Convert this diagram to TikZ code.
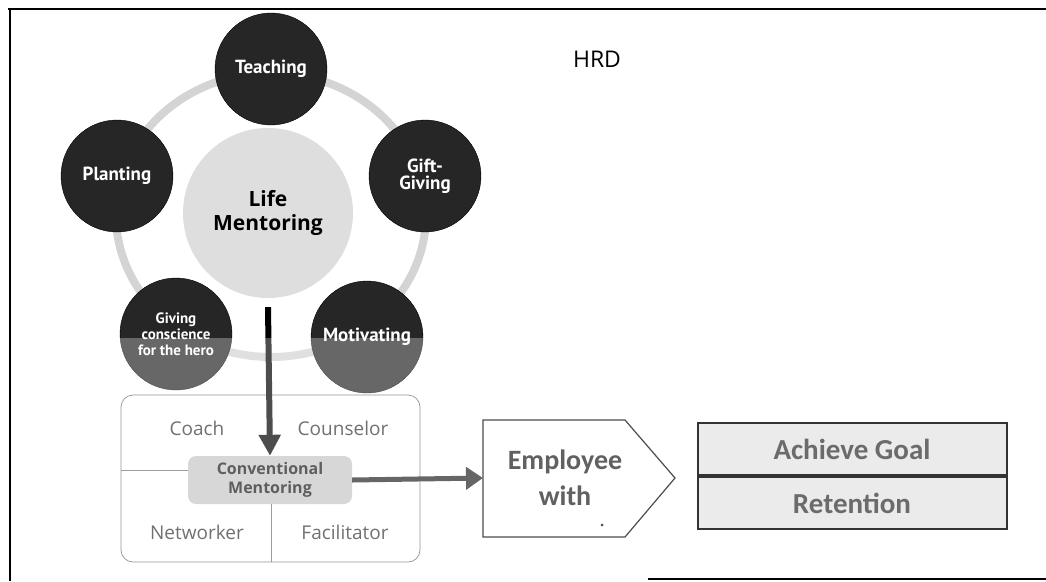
\documentclass[tikz,border=0pt]{standalone}
\usepackage{fontspec}
\setmainfont{Open Sans}
\newfontfamily\circfont{PT Sans}
\newfontfamily\calfont{Carlito}
\usetikzlibrary{arrows.meta,positioning}

\tikzset{
	darkcirc/.style={circle,fill=black!85,draw=black,minimum size=112pt,inner sep=0pt,text=white,align=center,font=\circfont\bfseries\fontsize{19}{17}\selectfont},
	lifecirc/.style={circle,fill=black!13,minimum size=170pt,inner sep=0pt,align=center,font=\bfseries\fontsize{21}{24}\selectfont},
	ring/.style={draw=black!17,line width=8pt},
	rolebox/.style={draw=black!60,rounded corners=12pt,line width=0.7pt},
	roletext/.style={text=black!80,font=\fontsize{19}{19}\selectfont},
	convbox/.style={rounded corners=8pt,fill=black!22,minimum width=164pt,minimum height=48pt,inner sep=0pt,align=center,text=black!90,font=\bfseries\fontsize{16}{19}\selectfont},
	divline/.style={draw=black!55,line width=0.7pt},
	downarrow/.style={draw=black,line width=6pt,-{Triangle[width=21pt,length=21pt]}},
	rightarrow/.style={draw=black!60,line width=5pt,-{Triangle[width=22pt,length=17pt]}},
	empbox/.style={draw=black!70,line width=1.2pt},
	emptext/.style={align=center,text=black!62,font=\calfont\bfseries\fontsize{28}{36}\selectfont},
	goalbox/.style={draw=black!80,line width=2pt,fill=black!8,minimum width=309pt,minimum height=52pt,inner sep=0pt,text=black!58,font=\calfont\bfseries\fontsize{29}{29}\selectfont},
	hrdtext/.style={font=\fontsize{23}{23}\selectfont}
}

\begin{document}
\begin{tikzpicture}[x=1pt,y=-1pt]
	\useasboundingbox (0,0) rectangle (1046,581);
	% frame
	\draw[line width=2pt] (8,9) -- (1046,9);
	\draw[line width=2pt] (10,9) -- (10,581);
	\draw[line width=1.5pt] (648,579) -- (1046,579);

	% life mentoring wheel
	\draw[ring] (271,215) ellipse [x radius=155pt,y radius=142pt];
	\node[lifecirc] (life) at (268,213) {Life\\Mentoring};
	\node[darkcirc] (teach) at (271,69) {Teaching};
	\node[darkcirc] (plant) at (117,176) {Planting};
	\node[darkcirc] (gift) at (425,176) {Gift-\\Giving};
	\node[darkcirc,font=\circfont\bfseries\fontsize{15}{16}\selectfont] (hero) at (176,334) {Giving\\conscience\\for the hero};
	\node[darkcirc] (motiv) at (367,337) {Motivating};

	% conventional mentoring
	\draw[rolebox] (121,395) rectangle (420,562);
	\node[convbox] (conv) at (270,480) {Conventional\\Mentoring};
	\coordinate (boxW) at (121,470);
	\coordinate (boxS) at (271,562);
	\draw[divline] (boxW) -- (conv.west |- boxW);
	\draw[divline] (boxS |- conv.south) -- (boxS);
	\node[roletext] (coach) at (197,428) {Coach};
	\node[roletext] (couns) at (343,428) {Counselor};
	\node[roletext] (netw) at (197,532) {Networker};
	\node[roletext] (facil) at (345,532) {Facilitator};

	\draw[downarrow] ([yshift=-9pt]life.south) -- (conv.north);

	% faded lower band
	\fill[white,opacity=0.3] (12,338) rectangle (470,578);

	% employee and outcomes
	\coordinate (empW) at (483,478);
	\draw[empbox] (empW) |- (625,420) -- (675,478) -- (625,537) -| cycle;
	\node[emptext] (emp) at (565,478) {Employee\\with};
	\fill[black!70] (602,525) circle (1.5pt);
	\draw[rightarrow] (conv.east) -- (empW);

	\node[goalbox] (goal) at (852,449) {Achieve Goal};
	\node[goalbox,below=0pt of goal] (ret) {Retention};

	\node[hrdtext] (hrd) at (597,59) {HRD};
\end{tikzpicture}
\end{document}
